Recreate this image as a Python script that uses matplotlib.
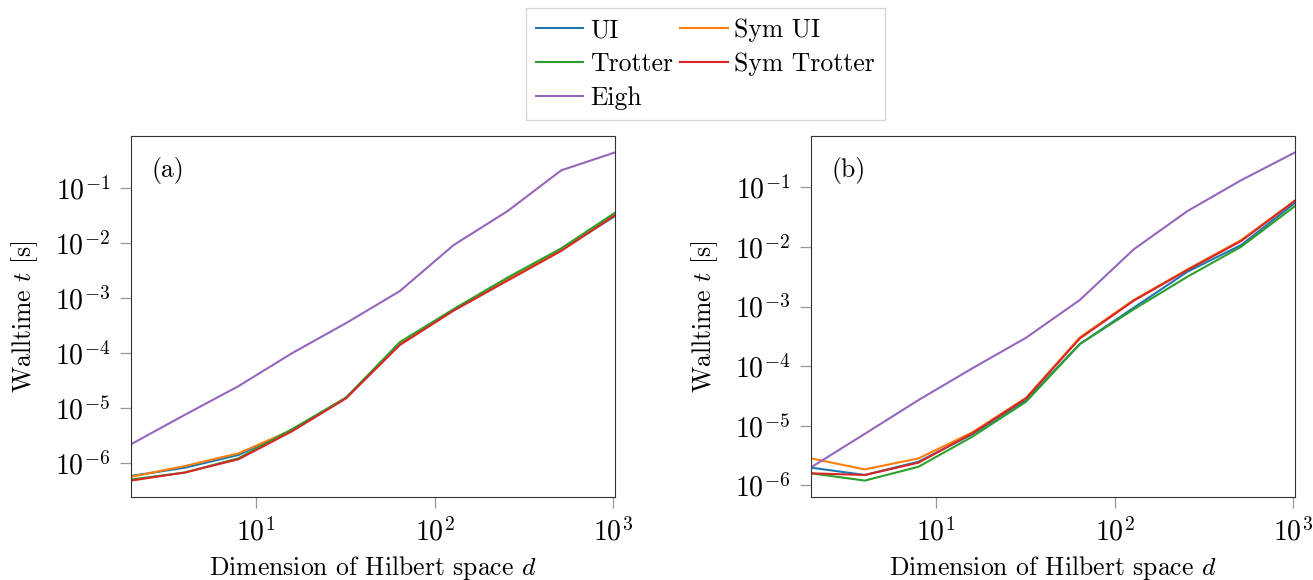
import numpy as np
import matplotlib
matplotlib.use("Agg")
import matplotlib.pyplot as plt

plt.rcParams["font.family"] = "cmr10"
plt.rcParams["mathtext.fontset"] = "cm"
plt.rcParams["axes.formatter.use_mathtext"] = True
plt.rcParams["axes.unicode_minus"] = False
plt.rcParams["font.size"] = 18.5

dims = [2, 4, 8, 16, 32, 64, 128, 256, 512, 1024]
labels = ["UI", "Sym UI", "Trotter", "Sym Trotter", "Eigh"]
colors = ["C0", "C1", "C2", "C3", "C4"]

# panel (a)
ui_a = [5.8e-7, 8.2e-7, 1.40e-6, 4.0e-6, 1.54e-5, 1.5e-4, 6.05e-4, 2.2e-3, 7.5e-3, 0.031]
sym_ui_a = [5.6e-7, 8.8e-7, 1.5e-6, 4.0e-6, 1.54e-5, 1.5e-4, 6.05e-4, 2.2e-3, 7.7e-3, 0.034]
trotter_a = [5.0e-7, 6.7e-7, 1.22e-6, 4.15e-6, 1.54e-5, 1.58e-4, 6.3e-4, 2.35e-3, 8.0e-3, 0.0356]
sym_trotter_a = [4.78e-7, 6.7e-7, 1.17e-6, 3.8e-6, 1.5e-5, 1.4e-4, 5.9e-4, 2.07e-3, 7.2e-3, 0.032]
eigh_a = [2.19e-6, 7.5e-6, 2.5e-5, 1.0e-4, 3.5e-4, 1.34e-3, 9.2e-3, 0.038, 0.21, 0.445]

# panel (b)
ui_b = [1.98e-6, 1.49e-6, 2.49e-6, 7.2e-6, 2.7e-5, 2.35e-4, 9.55e-4, 3.84e-3, 0.0108, 0.055]
sym_ui_b = [2.83e-6, 1.85e-6, 2.83e-6, 7.74e-6, 2.95e-5, 3.04e-4, 1.29e-3, 4.2e-3, 0.0131, 0.0597]
trotter_b = [1.59e-6, 1.20e-6, 2.05e-6, 6.55e-6, 2.53e-5, 2.35e-4, 8.96e-4, 3.17e-3, 0.0101, 0.0486]
sym_trotter_b = [1.59e-6, 1.49e-6, 2.40e-6, 7.45e-6, 2.88e-5, 2.92e-4, 1.25e-3, 4.1e-3, 0.0126, 0.0597]
eigh_b = [2.0e-6, 7.3e-6, 2.7e-5, 9.2e-5, 3.0e-4, 1.29e-3, 9.1e-3, 0.04, 0.132, 0.386]

fig = plt.figure(figsize=(13.13, 5.8), dpi=100)
ax_a = fig.add_axes([131 / 1313, 1 - 497 / 580, 484 / 1313, 361 / 580])
ax_b = fig.add_axes([811 / 1313, 1 - 497 / 580, 484 / 1313, 361 / 580])

panels = [
    (ax_a, [ui_a, sym_ui_a, trotter_a, sym_trotter_a, eigh_a], "(a)"),
    (ax_b, [ui_b, sym_ui_b, trotter_b, sym_trotter_b, eigh_b], "(b)"),
]

for ax, series, tag in panels:
    for vals, lab, c in zip(series, labels, colors):
        ax.plot(dims, vals, color=c, label=lab, linewidth=1.5)
    ax.set_xscale("log")
    ax.set_yscale("log")
    ax.set_xlim(dims[0], dims[-1])
    ax.minorticks_off()
    ax.tick_params(labelsize=20, length=8, width=0.9, color="0.6", pad=7)
    for sp in ax.spines.values():
        sp.set_color("0.2")
    ax.set_xlabel("Dimension of Hilbert space $d$", labelpad=5)
    ax.set_ylabel("Walltime $t$ [s]", labelpad=11)
    ax.text(0.043, 0.942, tag, transform=ax.transAxes, va="top", ha="left")

# legend filled row by row like the original: reorder for column-major layout
handles, labs = ax_a.get_legend_handles_labels()
order = [0, 2, 4, 1, 3]
fig.legend([handles[i] for i in order], [labs[i] for i in order],
           loc="upper center", ncol=2,
           bbox_to_anchor=(705.5 / 1313, 1 - 8 / 580), borderaxespad=0,
           fancybox=False, handlelength=1.85, columnspacing=0.3,
           handletextpad=0.25, labelspacing=0.4, borderpad=0.4)

fig.savefig("out.png", dpi=100)
